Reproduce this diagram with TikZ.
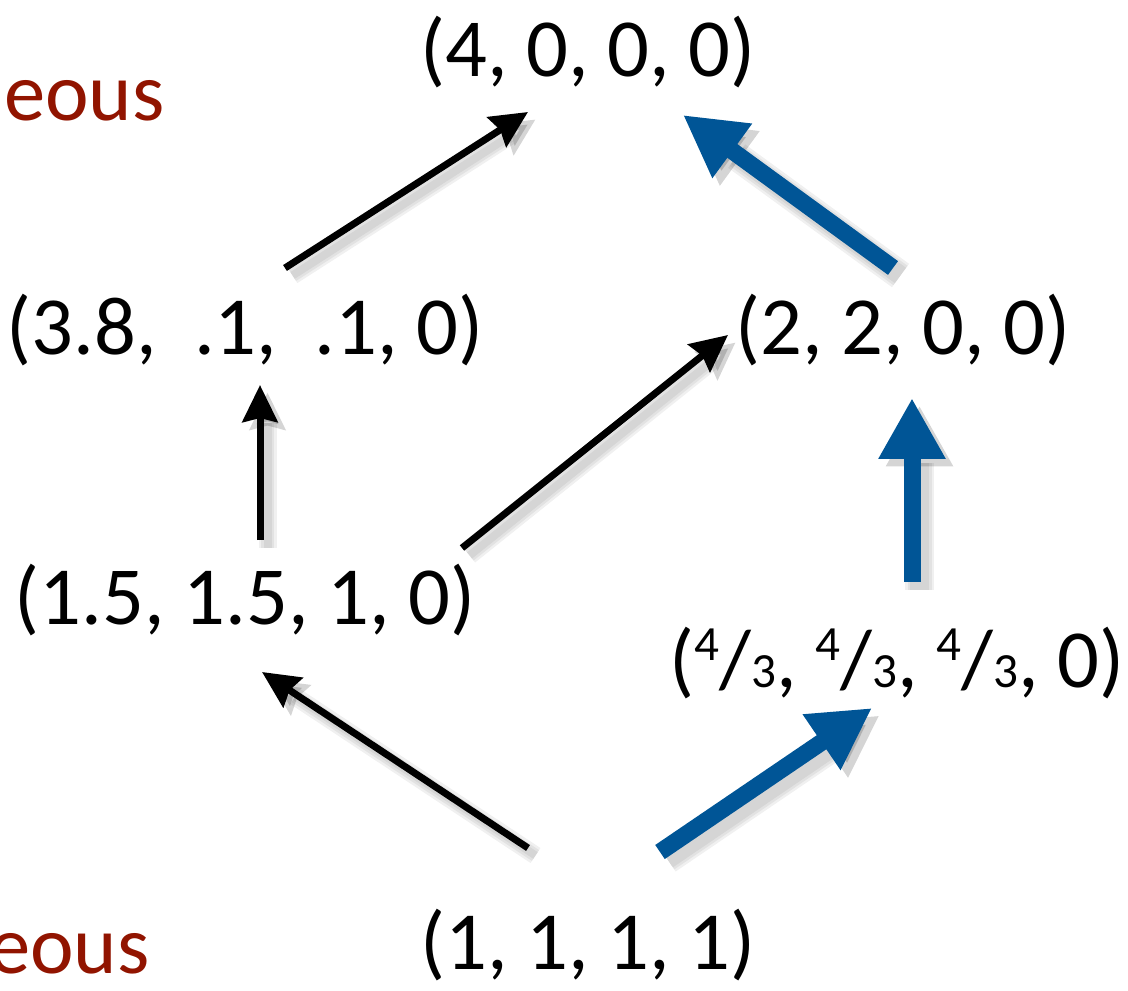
\documentclass[tikz,border=0pt]{standalone}
\usepackage{fontspec}
\setmainfont{Carlito}
\usepackage{tikz}
\usetikzlibrary{arrows.meta,calc}

\definecolor{arrblue}{RGB}{0,85,150}
\definecolor{darkred}{RGB}{145,20,0}

\newcommand\fthird{{\raisebox{.33em}{\fontsize{28}{28}\selectfont 4}/\fontsize{28}{28}\selectfont 3}}

\tikzset{
  vec/.style={font=\fontsize{47}{56}\selectfont, inner sep=0pt},
  side/.style={font=\fontsize{47}{56}\selectfont, text=darkred, inner sep=0pt},
  shade/.style={preaction={draw=black, opacity=.06, line width=#1,
      transform canvas={xshift=.15cm, yshift=-.15cm}}},
  thinarr/.style={line width=.14cm, -{Stealth[length=.74cm, width=.7cm, inset=.08cm]},
      shade=.36cm, shade=.26cm, shade=.16cm},
  fatarr/.style={arrblue, line width=.34cm, -{Triangle[length=1.22cm, width=1.26cm]},
      shade=.58cm, shade=.48cm, shade=.38cm}
}

\begin{document}
\begin{tikzpicture}[x=.02cm, y=-.02cm]
  \useasboundingbox (0,0) rectangle (1128,990);

  % the lattice of points
  \node[vec] (top) at (588,52) {(4, 0, 0, 0)};
  \node[vec] (tlf) at (245,330) {(3.8,~ .1,~ .1, 0)};
  \node[vec] (trt) at (903,330) {(2, 2, 0, 0)};
  \node[vec] (mlf) at (245,600) {(1.5, 1.5, 1, 0)};
  \node[vec] (mrt) at (897,663) {(\fthird, \fthird, \fthird, 0)};
  \node[vec] (bot) at (588,945) {(1, 1, 1, 1)};

  % cut-off labels on the left
  \node[side, anchor=base east] (hiside) at (165,120) {eous};
  \node[side, anchor=base east] (loside) at (150,973) {eous};

  % black moves
  \draw[thinarr] ($(bot)+(-60,-97)$) -- ($(mlf)+(17,72)$);
  \draw[thinarr] ($(mlf)+(15,-60)$) -- ($(tlf)+(15,55)$);
  \draw[thinarr] ($(mlf)+(217,-52)$) -- ($(trt)+(-175,5)$);
  \draw[thinarr] ($(tlf)+(40,-62)$) -- ($(top)+(-60,60)$);

  % blue moves
  \draw[fatarr] ($(bot)+(72,-93)$) -- ($(mrt)+(-25,45)$);
  \draw[fatarr] ($(mrt)+(15,-81)$) -- ($(trt)+(9,68)$);
  \draw[fatarr] ($(trt)+(-10,-62)$) -- ($(top)+(95,63)$);
\end{tikzpicture}
\end{document}
